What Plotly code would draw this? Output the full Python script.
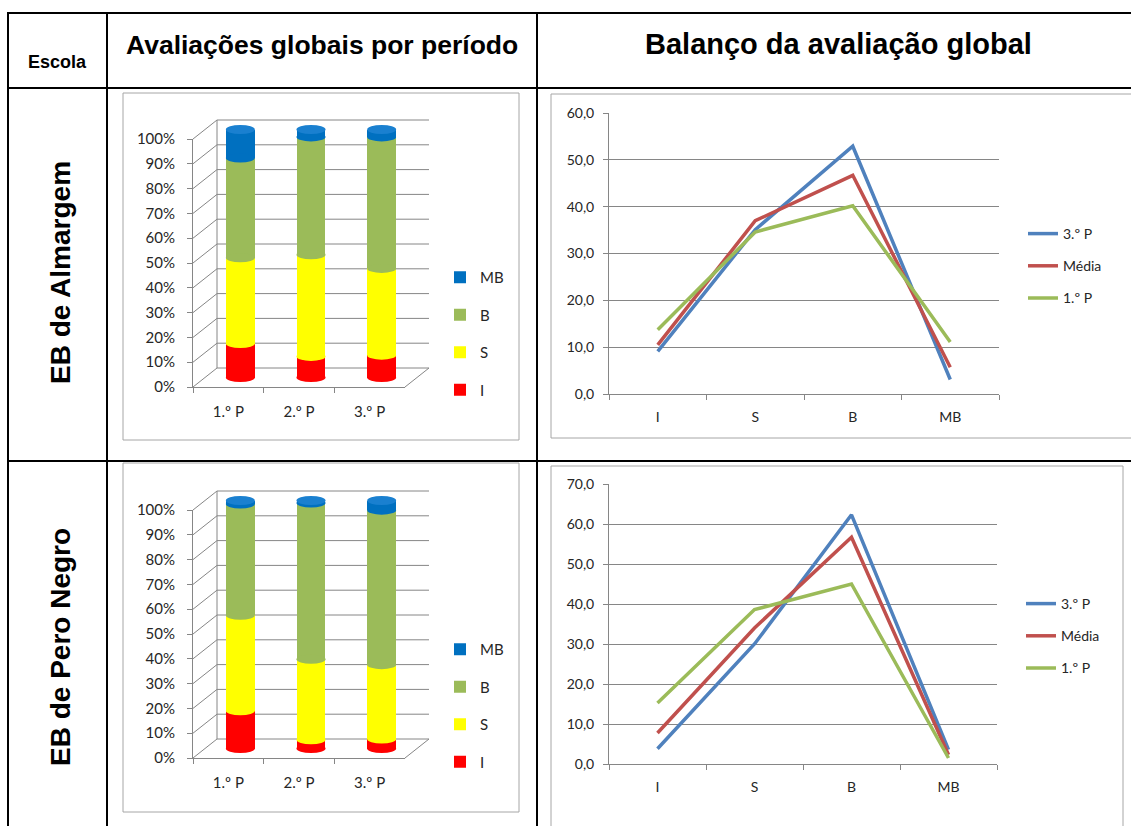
import plotly.graph_objects as go

W, H = 1131, 826

# ---------------- data ----------------
periods = ["1.º P", "2.º P", "3.º P"]
levels = ["I", "S", "B", "MB"]
level_colors = ["#FF0000", "#FFFF00", "#9BBB59", "#0070C0"]
cap_color = "#1A80D0"

# EB de Almargem - share of each level per period (%)
alm_I = [13.7, 8.5, 9.0]
alm_S = [34.6, 41.0, 35.0]
alm_B = [40.2, 47.5, 53.0]
alm_MB = [11.5, 3.0, 3.0]

# EB de Almargem - balance (I, S, B, MB)
alm_3P = [9.1, 35.1, 52.9, 3.1]
alm_media = [10.5, 37.0, 46.7, 5.7]
alm_1P = [13.7, 34.6, 40.2, 11.1]

# EB de Pero Negro - share of each level per period (%)
pn_I = [15.2, 3.5, 3.8]
pn_S = [38.5, 32.5, 30.0]
pn_B = [44.9, 63.0, 62.3]
pn_MB = [1.4, 1.0, 3.9]

# EB de Pero Negro - balance (I, S, B, MB)
pn_3P = [3.8, 30.0, 62.3, 3.6]
pn_media = [7.75, 34.0, 56.7, 2.3]
pn_1P = [15.25, 38.6, 45.0, 1.5]

line_names = ["3.º P", "Média", "1.º P"]
line_colors = ["#4F81BD", "#C0504D", "#9BBB59"]

pct_ticks = list(range(0, 101, 10))

# ---------------- helpers ----------------
def PX(x):
    return x / W


def PY(y):
    return 1 - y / H


TICK_FONT = dict(family="Lato", size=15, color="#262626")
LINE_FONT = dict(family="Lato", size=14, color="#262626")
GRID = "#868686"

fig = go.Figure()
shapes = []
annotations = []
layout = {}

# ---------------- table frame ----------------
def hline(y, x0, x1, color="black", w=2):
    shapes.append(dict(type="line", xref="paper", yref="paper",
                       x0=PX(x0), x1=PX(x1), y0=PY(y), y1=PY(y),
                       line=dict(color=color, width=w), layer="above"))


def vline(x, y0, y1, color="black", w=2):
    shapes.append(dict(type="line", xref="paper", yref="paper",
                       x0=PX(x), x1=PX(x), y0=PY(y0), y1=PY(y1),
                       line=dict(color=color, width=w), layer="above"))


def box(x0, y0, x1, y1):
    shapes.append(dict(type="rect", xref="paper", yref="paper",
                       x0=PX(x0), x1=PX(x1), y0=PY(y1), y1=PY(y0),
                       line=dict(color="#A6A6A6", width=1), fillcolor="rgba(0,0,0,0)",
                       layer="below"))


hline(13, 7, 1140)
hline(88, 7, 1140)
hline(461, 7, 1140)
vline(8, 12, 840)
vline(107, 12, 840)
vline(537, 12, 840)

box(123, 93, 519, 440)
box(551, 94, 1140, 438)
box(123, 463, 519, 812)
box(551, 466, 1123, 840)


def label(text, x, y, size, angle=0):
    annotations.append(dict(text=f"<b>{text}</b>", x=PX(x), y=PY(y), xref="paper",
                            yref="paper", xanchor="center", yanchor="middle",
                            showarrow=False, textangle=angle,
                            font=dict(family="Liberation Sans", size=size, color="black")))


label("Escola", 57, 62, 18)
label("Avaliações globais por período", 322, 45, 26.5)
label("Balanço da avaliação global", 838, 44, 29)
label("EB de Almargem", 60, 273, 28, -90)
label("EB de Pero Negro", 60, 647, 28, -90)

# ---------------- 3D-style stacked cylinder charts ----------------
DX, DY = 24, -19
BAR_W = 0.41


def bar_chart(fx, fy, bx, by, series, y0, y100, legend_name, legend_top):
    fx0, fx1 = 193, 405
    fxr, fyr = fx.replace("axis", ""), fy.replace("axis", "")
    # front frame axes (labels)
    fig.add_trace(go.Scatter(x=periods, y=[None] * 3, xaxis=fxr, yaxis=fyr,
                             showlegend=False, hoverinfo="skip", mode="markers"))
    layout[fx] = dict(domain=[PX(fx0), PX(fx1)], type="category", categoryorder="array",
                      categoryarray=periods, range=[-0.5, 2.5], anchor=fyr,
                      showline=True, linecolor=GRID, linewidth=1, ticks="outside",
                      tickson="boundaries", ticklen=5, tickcolor=GRID, showgrid=False,
                      tickfont=TICK_FONT, ticklabelstandoff=11, fixedrange=True)
    layout[fy] = dict(domain=[PY(y0), PY(y100)], range=[0, 100], tickvals=pct_ticks,
                      ticktext=[f"{t}%" for t in pct_ticks], anchor=fxr,
                      showline=True, linecolor=GRID, linewidth=1, ticks="outside",
                      ticklen=5, tickcolor=GRID, showgrid=False, zeroline=False,
                      tickfont=TICK_FONT, ticklabelstandoff=9, fixedrange=True)
    # walls
    for t in pct_ticks:
        yf = y0 + (y100 - y0) * t / 100
        yb = yf + DY
        shapes.append(dict(type="line", xref="paper", yref="paper",
                           x0=PX(fx0), x1=PX(fx0 + DX), y0=PY(yf), y1=PY(yb),
                           line=dict(color=GRID, width=1), layer="below"))
        shapes.append(dict(type="line", xref="paper", yref="paper",
                           x0=PX(fx0 + DX), x1=PX(fx1 + DX), y0=PY(yb), y1=PY(yb),
                           line=dict(color=GRID, width=1), layer="below"))
    shapes.append(dict(type="line", xref="paper", yref="paper",
                       x0=PX(fx0 + DX), x1=PX(fx0 + DX), y0=PY(y0 + DY), y1=PY(y100 + DY),
                       line=dict(color=GRID, width=1), layer="below"))
    shapes.append(dict(type="line", xref="paper", yref="paper",
                       x0=PX(fx1), x1=PX(fx1 + DX), y0=PY(y0), y1=PY(y0 + DY),
                       line=dict(color=GRID, width=1), layer="below"))

    # bars at mid depth
    my0, my100 = y0 + DY / 2, y100 + DY / 2
    unit = (my0 - my100) / 100
    pad = 6
    xr, yr = bx.replace("axis", ""), by.replace("axis", "")
    layout[bx] = dict(domain=[PX(fx0 + DX / 2), PX(fx1 + DX / 2)], type="category",
                      categoryorder="array", categoryarray=periods, range=[-0.5, 2.5],
                      visible=False, anchor=yr, fixedrange=True)
    layout[by] = dict(domain=[PY(my0 + pad * unit), PY(my100 - pad * unit)],
                      range=[-pad, 100 + pad], visible=False, anchor=xr, fixedrange=True)
    n = len(levels)
    for k, (lvl, col, vals) in enumerate(zip(levels, level_colors, series)):
        fig.add_trace(go.Bar(x=periods, y=vals, name=lvl,
                             marker=dict(color=col, line=dict(width=0)),
                             width=BAR_W, xaxis=xr, yaxis=yr, legend=legend_name,
                             legendgroup=legend_name + lvl, legendrank=n - k,
                             hoverinfo="skip"))
    ry = 4.5 / unit
    for i in range(len(periods)):
        cum = 0.0
        shapes.append(dict(type="circle", xref=xr, yref=yr, x0=i - BAR_W / 2, x1=i + BAR_W / 2,
                           y0=-ry, y1=ry, fillcolor=level_colors[0], line=dict(width=0),
                           layer="above"))
        for k in range(n):
            cum += series[k][i]
            col = level_colors[k + 1] if k + 1 < n else cap_color
            shapes.append(dict(type="circle", xref=xr, yref=yr, x0=i - BAR_W / 2,
                               x1=i + BAR_W / 2, y0=cum - ry, y1=cum + ry, fillcolor=col,
                               line=dict(width=0), layer="above"))
    layout[legend_name] = dict(x=PX(440), y=PY(legend_top), xanchor="left", yanchor="top",
                               font=TICK_FONT, bgcolor="rgba(0,0,0,0)",
                               traceorder="grouped", tracegroupgap=15)


bar_chart("xaxis", "yaxis", "xaxis2", "yaxis2", [alm_I, alm_S, alm_B, alm_MB],
          387, 139, "legend", 261)
bar_chart("xaxis5", "yaxis5", "xaxis6", "yaxis6", [pn_I, pn_S, pn_B, pn_MB],
          758, 510, "legend3", 633)


# ---------------- line charts ----------------
def line_chart(xa, ya, series, x0, x1, y0, ytop, ymax, legend_name, legend_top, legend_x):
    xr, yr = xa.replace("axis", ""), ya.replace("axis", "")
    for name, col, vals in zip(line_names, line_colors, series):
        fig.add_trace(go.Scatter(x=levels, y=vals, name=name, mode="lines",
                                 line=dict(color=col, width=3.5), xaxis=xr, yaxis=yr,
                                 legend=legend_name, legendgroup=legend_name + name,
                                 hoverinfo="skip"))
    layout[xa] = dict(domain=[PX(x0), PX(x1)], type="category", categoryorder="array",
                      categoryarray=levels, range=[-0.5, 3.5], anchor=yr, showline=True,
                      linecolor=GRID, ticks="outside", tickson="boundaries", ticklen=5,
                      tickcolor=GRID, showgrid=False, tickfont=LINE_FONT,
                      ticklabelstandoff=10, fixedrange=True)
    layout[ya] = dict(domain=[PY(y0), PY(ytop)], range=[0, ymax], dtick=10, tick0=0,
                      tickformat=".1f", anchor=xr, showline=True, linecolor=GRID,
                      ticks="outside", ticklen=5, tickcolor=GRID, showgrid=True,
                      gridcolor=GRID, gridwidth=1, zeroline=False, tickfont=LINE_FONT,
                      ticklabelstandoff=6, fixedrange=True)
    layout[legend_name] = dict(x=PX(legend_x), y=PY(legend_top), xanchor="left",
                               yanchor="top", font=LINE_FONT, bgcolor="rgba(0,0,0,0)",
                               traceorder="grouped", tracegroupgap=11, itemwidth=30)


line_chart("xaxis3", "yaxis3", [alm_3P, alm_media, alm_1P], 609, 999, 394, 113, 60,
           "legend2", 218, 1023)
line_chart("xaxis4", "yaxis4", [pn_3P, pn_media, pn_1P], 609, 997, 764, 484, 70,
           "legend4", 588, 1021)

fig.update_layout(
    width=W, height=H, margin=dict(l=0, r=0, t=0, b=0, pad=0, autoexpand=False),
    paper_bgcolor="white", plot_bgcolor="rgba(0,0,0,0)",
    barmode="stack", bargap=0.59, separators=",.",
    shapes=shapes, annotations=annotations, showlegend=True,
    **layout,
)

fig.write_html("out.html", config=dict(displayModeBar=False),
               post_script="document.body.style.margin='0px';"
                           "document.body.style.overflow='hidden';")
